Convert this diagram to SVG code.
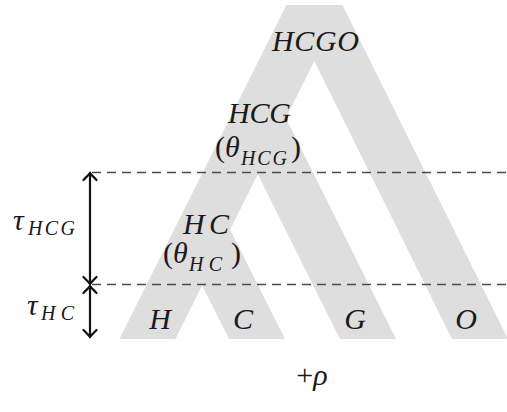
<svg xmlns="http://www.w3.org/2000/svg" width="507" height="412" viewBox="0 0 507 412">
<style>
.band{fill:#dedede;stroke:none}
.dash{stroke:#4d4d4d;stroke-width:1.7;stroke-dasharray:9 6;fill:none}
.arr{stroke:#111;stroke-width:2.2;fill:none;marker-start:url(#tip);marker-end:url(#tip)}
.t{font-style:italic;font-size:30px;fill:#1a1a1a}
.s{font-size:20px}
.u{font-style:normal}
</style>
<defs>
<marker id="tip" viewBox="-10 -8 12 16" refX="0" refY="0" markerWidth="12" markerHeight="16" markerUnits="userSpaceOnUse" orient="auto-start-reverse">
<path d="M-7,-6.5 Q-2,-1.5 0,0 Q-2,1.5 -7,6.5" fill="none" stroke="#111" stroke-width="2.2" stroke-linecap="round"/>
</marker>
</defs>
<g id="tree">
<polygon class="band" points="286.5,5 342.5,5 175.5,339 119.5,339"/>
<polygon class="band" points="286.5,5 342.5,5 508,339 452,339"/>
<polygon class="band" points="230,118.5 286,118.5 396,339 340,339"/>
<polygon class="band" points="174,229.5 230,229.5 285,339 229,339"/>
</g>
<g id="connectors">
<line class="dash" x1="92" y1="172.5" x2="507" y2="172.5"/>
<line class="dash" x1="92" y1="284.5" x2="507" y2="284.5"/>
<line class="arr" x1="90" y1="173" x2="90" y2="284"/>
<line class="arr" x1="90" y1="286" x2="90" y2="337"/>
</g>
<g font-family="'Liberation Serif', 'Times New Roman', serif">
<g id="node-HCGO"><text class="t" x="272" y="51" textLength="87" lengthAdjust="spacing">HCGO</text></g>
<g id="node-HCG">
<text class="t" x="228" y="123" textLength="63" lengthAdjust="spacing">HCG</text>
<text class="t" x="215" y="157"><tspan class="u">(</tspan>θ<tspan class="s" dy="8" x="241" textLength="46" lengthAdjust="spacing">HCG</tspan><tspan class="u" dy="-8" x="291">)</tspan></text>
</g>
<g id="node-HC">
<text class="t" x="183" y="234" textLength="46" lengthAdjust="spacing">HC</text>
<text class="t" x="163" y="263"><tspan class="u">(</tspan>θ<tspan class="s" dy="8" x="189" textLength="33" lengthAdjust="spacing">HC</tspan><tspan class="u" dy="-8" x="231">)</tspan></text>
</g>
<g id="leaf-H"><text class="t" x="160" y="329" text-anchor="middle">H</text></g>
<g id="leaf-C"><text class="t" x="243" y="329" text-anchor="middle">C</text></g>
<g id="leaf-G"><text class="t" x="355" y="329" text-anchor="middle">G</text></g>
<g id="leaf-O"><text class="t" x="466" y="329" text-anchor="middle">O</text></g>
<g id="label-tauHCG"><text class="t" x="13" y="230">τ<tspan class="s" dy="5" x="28" textLength="47" lengthAdjust="spacing">HCG</tspan></text></g>
<g id="label-tauHC"><text class="t" x="27" y="315">τ<tspan class="s" dy="5" x="41" textLength="33" lengthAdjust="spacing">HC</tspan></text></g>
<g id="label-rho"><text class="t" x="312" y="385" text-anchor="middle"><tspan class="u">+</tspan>ρ</text></g>
</g>
</svg>
